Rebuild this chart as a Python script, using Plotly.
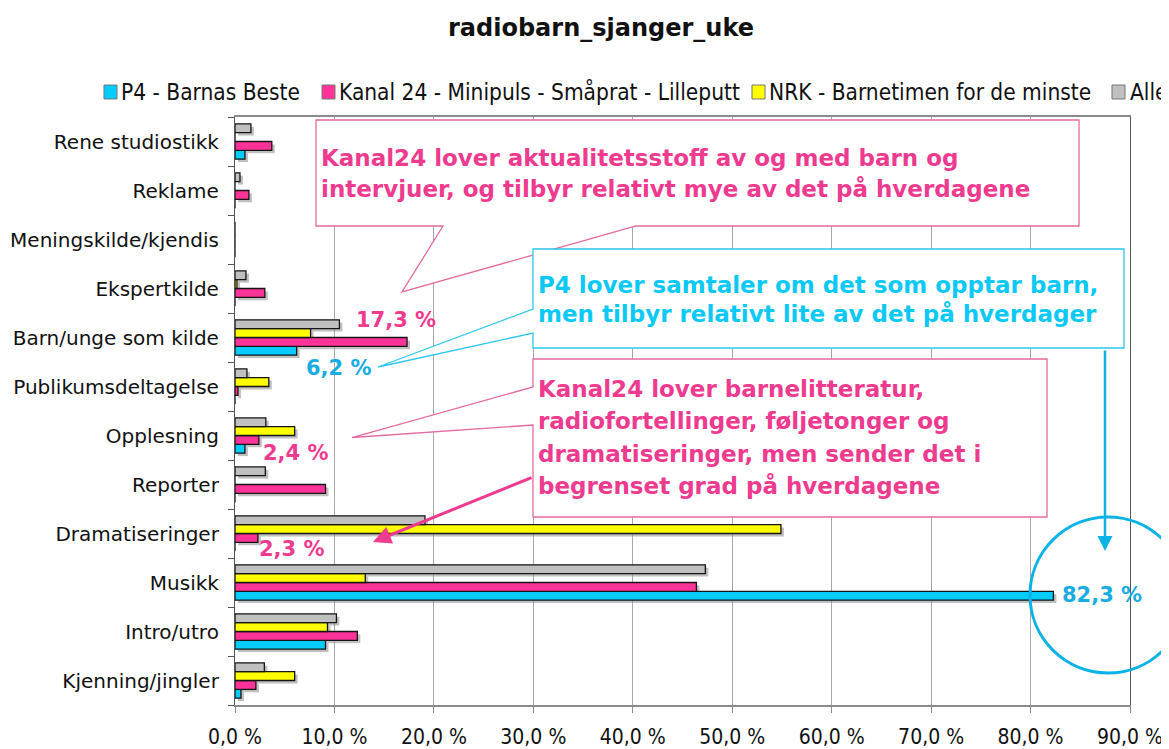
import plotly.graph_objects as go

# ---------------- data ----------------
categories = ["Kjenning/jingler", "Intro/utro", "Musikk", "Dramatiseringer", "Reporter",
              "Opplesning", "Publikumsdeltagelse", "Barn/unge som kilde", "Ekspertkilde",
              "Meningskilde/kjendis", "Reklame", "Rene studiostikk"]
series_names = ["P4 - Barnas Beste", "Kanal 24 - Minipuls - Småprat - Lilleputt",
                "NRK - Barnetimen for de minste", "Alle"]
p4 = [0.6, 9.1, 82.3, 0.0, 0.0, 1.0, 0.0, 6.2, 0.0, 0.0, 0.0, 1.0]
kanal24 = [2.1, 12.3, 46.4, 2.3, 9.1, 2.4, 0.3, 17.3, 3.0, 0.0, 1.4, 3.7]
nrk = [6.0, 9.3, 13.1, 54.9, 0.0, 6.0, 3.4, 7.6, 0.2, 0.0, 0.0, 0.0]
alle = [2.95, 10.2, 47.3, 19.1, 3.05, 3.1, 1.2, 10.5, 1.1, 0.0, 0.5, 1.6]
x_ticks = [0, 10, 20, 30, 40, 50, 60, 70, 80, 90]
x_tick_labels = ["0,0 %", "10,0 %", "20,0 %", "30,0 %", "40,0 %", "50,0 %",
                 "60,0 %", "70,0 %", "80,0 %", "90,0 %"]
title_text = "radiobarn_sjanger_uke"
box1_lines = ["Kanal24 lover aktualitetsstoff av og med barn og",
              "intervjuer, og tilbyr relativt mye av det på hverdagene"]
box2_lines = ["P4 lover samtaler om det som opptar barn,",
              "men tilbyr relativt lite av det på hverdager"]
box3_lines = ["Kanal24 lover barnelitteratur,", "radiofortellinger, føljetonger og",
              "dramatiseringer, men sender det i", "begrenset grad på hverdagene"]

# ---------------- styles ----------------
CYAN, PINK, YELLOW, GRAY = "#00CCFF", "#FF3399", "#FFFF00", "#C0C0C0"
TXT_PINK = "#EE3A8F"
BOX_PINK = "#E56A9F"
TXT_CYAN_BOX = "#0CC8F4"
TXT_CYAN = "#18ACE2"
ARROW_CYAN = "#0AB2E6"
colors = [CYAN, PINK, YELLOW, GRAY]
values = [p4, kanal24, nrk, alle]
BAR_W = 0.18
offsets = [-0.36, -0.18, 0.0, 0.18]

# page has an 8px body margin: the figure starts at (8, 8) in the screenshot
PAGE_W, PAGE_H, OFF = 1169, 749, 8
W, H = PAGE_W - OFF, PAGE_H - OFF
L, R, T, B = 235, 1130, 117, 705   # plot area in screenshot pixels


def px(x):
    return (x - L) / (R - L)


def py(y):
    return (B - y) / (B - T)


COND = "DejaVu Sans Condensed, Liberation Sans Narrow, Liberation Sans, sans-serif"
VERD = "DejaVu Sans, Verdana, sans-serif"

fig = go.Figure()

# shadows
for vals, off in zip(values, offsets):
    fig.add_trace(go.Bar(y=categories, x=vals, base=0.3, orientation="h", width=BAR_W,
                         offset=off - 0.06,
                         marker=dict(color="rgba(140,140,140,0.55)", line=dict(width=0)),
                         showlegend=False, hoverinfo="skip"))
# bars
for name, vals, col, off in zip(series_names, values, colors, offsets):
    fig.add_trace(go.Bar(y=categories, x=vals, orientation="h", width=BAR_W, offset=off,
                         name=name,
                         marker=dict(color=col, line=dict(color="#151515", width=1.3)),
                         showlegend=False))

shapes = []
annotations = []

# legend (custom, to mimic the clipped Excel legend)
leg_sq = [104, 322, 752, 1112]
leg_tx = [119, 337, 767, 1128]
for name, col, sx, tx in zip(series_names, colors, leg_sq, leg_tx):
    shapes.append(dict(type="rect", xref="paper", yref="paper",
                       x0=px(sx), x1=px(sx + 13), y0=py(99), y1=py(85),
                       fillcolor=col, line=dict(color="#777", width=1)))
    annotations.append(dict(xref="paper", yref="paper", x=px(tx), y=py(92),
                            xanchor="left", yanchor="middle", showarrow=False,
                            text=name, font=dict(family=COND, size=22.5, color="#111")))


def path(points):
    return "M " + " L ".join(f"{px(a):.5f},{py(b):.5f}" for a, b in points) + " Z"


# callout 1 (pink)
shapes.append(dict(type="path", xref="paper", yref="paper", layer="above",
                   path=path([(316, 120), (1079, 120), (1079, 226), (636, 226), (402, 292),
                              (443, 226), (316, 226)]),
                   fillcolor="white", line=dict(color=BOX_PINK, width=1.3)))
# callout 2 (cyan)
shapes.append(dict(type="path", xref="paper", yref="paper", layer="above",
                   path=path([(533, 249), (1124, 249), (1124, 348), (533, 348), (533, 333),
                              (378, 367), (533, 309)]),
                   fillcolor="white", line=dict(color="#2BC6EC", width=1.3)))
# callout 3 (pink)
shapes.append(dict(type="path", xref="paper", yref="paper", layer="above",
                   path=path([(533, 359), (1047, 359), (1047, 517), (533, 517), (533, 425),
                              (352, 437.5), (533, 387)]),
                   fillcolor="white", line=dict(color=BOX_PINK, width=1.3)))
# circle
shapes.append(dict(type="circle", xref="paper", yref="paper", layer="above",
                   x0=px(1030), x1=px(1186), y0=py(673), y1=py(517),
                   line=dict(color=ARROW_CYAN, width=3)))

BOLD = 23
for i, line in enumerate(box1_lines):
    annotations.append(dict(xref="paper", yref="paper", x=px(319), y=py(158 + 31 * i),
                            xanchor="left", yanchor="middle", showarrow=False, text=f"<b>{line}</b>",
                            font=dict(family=VERD, size=BOLD, color=TXT_PINK)))
for i, line in enumerate(box2_lines):
    annotations.append(dict(xref="paper", yref="paper", x=px(536), y=py(285 + 29 * i),
                            xanchor="left", yanchor="middle", showarrow=False, text=f"<b>{line}</b>",
                            font=dict(family=VERD, size=BOLD, color=TXT_CYAN_BOX)))
for i, line in enumerate(box3_lines):
    annotations.append(dict(xref="paper", yref="paper", x=px(536), y=py(389 + 32.3 * i),
                            xanchor="left", yanchor="middle", showarrow=False, text=f"<b>{line}</b>",
                            font=dict(family=VERD, size=BOLD, color=TXT_PINK)))

# arrows
annotations.append(dict(xref="paper", yref="paper", x=px(373), y=py(542), ax=160, ay=-65,
                        axref="pixel", ayref="pixel", text="", showarrow=True, arrowhead=2,
                        arrowsize=1.2, arrowwidth=3, arrowcolor=TXT_PINK))
annotations.append(dict(xref="paper", yref="paper", x=px(1105), y=py(551), ax=0, ay=-202,
                        axref="pixel", ayref="pixel", text="", showarrow=True, arrowhead=2,
                        arrowsize=1.2, arrowwidth=2.5, arrowcolor=ARROW_CYAN))


def fmt(v):
    return f"{v:.1f} %".replace(".", ",")


# value labels (category, series index, xshift, yshift, anchor, colour)
label_specs = [("Barn/unge som kilde", 1, -11, 18, "center", TXT_PINK),
               ("Barn/unge som kilde", 0, 42, -30, "center", TXT_CYAN),
               ("Opplesning", 1, 37, -17, "center", TXT_PINK),
               ("Dramatiseringer", 1, 34, -15, "center", TXT_PINK),
               ("Musikk", 0, 7, -12, "left", TXT_CYAN)]
for cat, si, xs, ys, anc, col in label_specs:
    v = values[si][categories.index(cat)]
    annotations.append(dict(xref="x", yref="y", x=v, y=cat, xshift=xs, yshift=ys,
                            xanchor=anc, yanchor="middle", showarrow=False,
                            text=f"<b>{fmt(v)}</b>",
                            font=dict(family=VERD, size=21, color=col)))

fig.update_layout(
    width=W, height=H, autosize=False,
    margin=dict(l=L - OFF, r=PAGE_W - R, t=T - OFF, b=PAGE_H - B, pad=0, autoexpand=False),
    paper_bgcolor="white", plot_bgcolor="white",
    barmode="overlay",
    showlegend=False,
    title=dict(text=f"<b>{title_text}</b>", x=(601 - OFF) / W, y=1 - (28 - OFF) / H,
               xref="container", yref="container", xanchor="center", yanchor="middle",
               font=dict(family=VERD, size=24, color="#111")),
    shapes=shapes, annotations=annotations,
    xaxis=dict(range=[0, 90], tickvals=x_ticks, ticktext=x_tick_labels, automargin=False,
               showgrid=True, gridcolor="#A8A8A8", gridwidth=1, zeroline=False,
               ticks="outside", ticklen=6, tickcolor="#8A8A8A",
               showline=True, linecolor="#8A8A8A", linewidth=1.5, mirror=True,
               tickfont=dict(family=COND, size=21, color="#111"), ticklabelstandoff=6),
    yaxis=dict(type="category", categoryorder="array", categoryarray=categories,
               automargin=False,
               range=[-0.5, 11.5], tickson="boundaries", ticks="outside", ticklen=6,
               tickcolor="#555", showline=True, linecolor="#555", linewidth=1.2, mirror=True,
               showgrid=False, zeroline=False,
               tickfont=dict(family=VERD, size=20, color="#111"), ticklabelstandoff=11),
)

fig.write_html("out.html")
